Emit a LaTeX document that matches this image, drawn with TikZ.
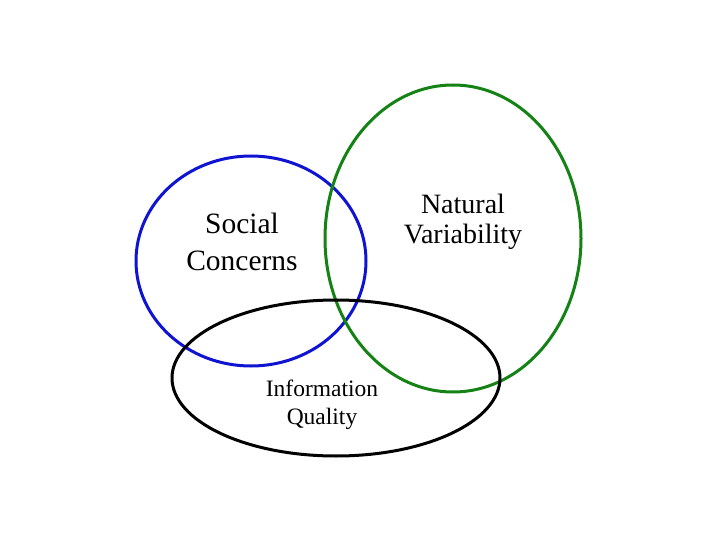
\documentclass[tikz,border=0pt]{standalone}
\usepackage{fontspec}
\setmainfont{Liberation Serif}
\begin{document}
\begin{tikzpicture}[x=1pt,y=-1pt,
  ring/.style={line width=3pt},
  big/.style={font=\fontsize{29.5}{37}\selectfont, align=center, inner sep=0pt},
  mid/.style={font=\fontsize{28}{30}\selectfont, align=center, inner sep=0pt},
  small/.style={font=\fontsize{23.5}{28}\selectfont, align=center, inner sep=0pt}]
\useasboundingbox (0,0) rectangle (720,540);
\draw[ring, color={rgb,255:red,15;green,20;blue,210}] (251,261) ellipse [x radius=115, y radius=105];
\draw[ring, color={rgb,255:red,20;green,130;blue,20}] (453,238.5) ellipse [x radius=128, y radius=153.5];
\draw[ring, black] (336,378) ellipse [x radius=164, y radius=78];
\node[big] (social) at (242,242) {Social\\Concerns};
\node[mid] (natural) at (463,222) {Natural\\Variability};
\node[small] (info) at (322,405) {Information\\Quality};
\end{tikzpicture}
\end{document}
